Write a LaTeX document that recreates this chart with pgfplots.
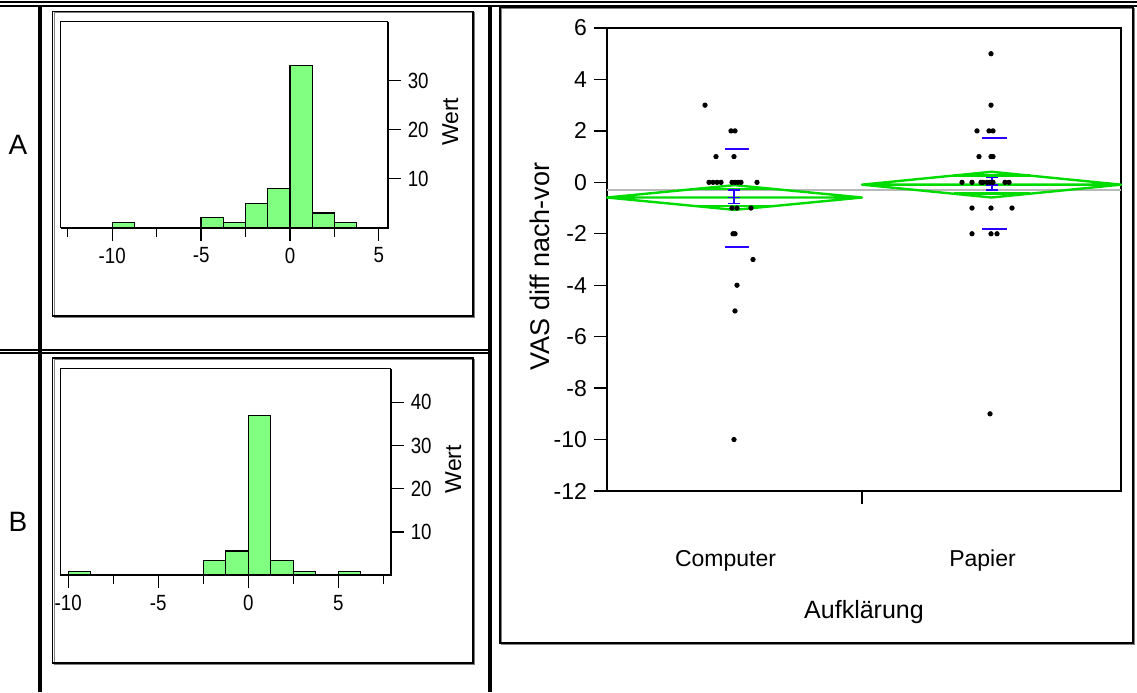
\documentclass[border=0pt]{standalone}
\usepackage{fontspec}
\setmainfont{Liberation Sans}
\newfontfamily\narrowfont[FakeStretch=0.85]{Liberation Sans}
\usepackage{pgfplots}
\pgfplotsset{compat=1.18}
\definecolor{histgreen}{RGB}{128,255,128}
\definecolor{diagreen}{RGB}{0,220,0}
\definecolor{sdblue}{RGB}{40,0,255}
\definecolor{gmgray}{RGB}{185,185,185}

\pgfplotsset{
  histo/.style={
    scale only axis,
    anchor=north west,
    axis line style={line width=0.5pt},
    tick style={line width=0.6pt, black},
    tick align=outside,
    xtick pos=bottom,
    ytick pos=right,
    yticklabel pos=right,
    major tick length=6.5pt,
    minor tick length=4.5pt,
    ymin=0,
    /pgf/number format/assume math mode=true,
    ticklabel style={font=\narrowfont\fontsize{11}{13}\selectfont},
    ylabel=Wert,
    ylabel near ticks,
    ylabel style={font=\fontsize{11.5}{13}\selectfont, xshift=1.5pt},
    clip=false,
  },
}

\begin{document}
\begin{tikzpicture}
\path[use as bounding box] (0pt,0pt) rectangle (568.5pt,346pt);
% ---------- Histogram A ----------
\begin{axis}[histo,
  at={(30.35pt,335.15pt)}, width=163.5pt, height=103pt,
  xmin=-12.9, xmax=5.5, ymax=42,
  xtick={-10,-5,0,5}, minor xtick={-12.5,-7.5,-2.5,2.5},
  ytick={10,20,30}]
\addplot[ybar interval, fill=histgreen, draw=black, line width=0.6pt]
  coordinates {(-10,1) (-8.75,1)};
\addplot[ybar interval, fill=histgreen, draw=black, line width=0.6pt]
  coordinates {(-5,2) (-3.75,1) (-2.5,5) (-1.25,8) (0,33) (1.25,3) (2.5,1) (3.75,0)};
\draw[line width=1pt] (rel axis cs:0,0) -- (rel axis cs:1,0) -- (rel axis cs:1,1);
\end{axis}

% ---------- Histogram B ----------
\begin{axis}[histo,
  at={(30.35pt,161.5pt)}, width=165pt, height=103.15pt,
  xmin=-10.42, xmax=7.91, ymax=47.7,
  xtick={-10,-5,0,5}, minor xtick={-7.5,-2.5,2.5,7.5},
  ytick={10,20,30,40}]
\addplot[ybar interval, fill=histgreen, draw=black, line width=0.6pt]
  coordinates {(-10,0.8) (-8.75,0.8)};
\addplot[ybar interval, fill=histgreen, draw=black, line width=0.6pt]
  coordinates {(-2.5,3.5) (-1.25,5.6) (0,37) (1.25,3.5) (2.5,0.8) (3.75,0)};
\addplot[ybar interval, fill=histgreen, draw=black, line width=0.6pt]
  coordinates {(5,0.8) (6.25,0.8)};
\draw[line width=1pt] (rel axis cs:0,0) -- (rel axis cs:1,0) -- (rel axis cs:1,1);
\end{axis}

% ---------- Oneway plot ----------
\begin{axis}[
  scale only axis, anchor=north west,
  at={(303.5pt,332pt)}, width=257pt, height=231.5pt,
  xmin=0, xmax=514, ymin=-12, ymax=6,
  axis line style={line width=0.8pt},
  tick style={line width=0.7pt, black},
  tick align=outside,
  major tick length=6.5pt,
  ytick={-12,-10,...,6},
  ytick pos=left, xtick pos=bottom,
  xtick={255}, xticklabels={},
  extra x ticks={127.5,384.5},
  extra x tick labels={Computer,Papier},
  extra x tick style={tick style={draw=none}, xticklabel style={yshift=-19.5pt, xshift=-4.5pt}},
  /pgf/number format/assume math mode=true,
  yticklabel style={font=\fontsize{11.5}{13}\selectfont},
  xticklabel style={font=\fontsize{11.5}{13}\selectfont},
  xlabel={Aufklärung},
  xlabel style={font=\fontsize{12.5}{15}\selectfont, at={(axis description cs:0.5,0)}, anchor=center, yshift=-60.5pt},
  ylabel={VAS diff nach-vor},
  ylabel style={font=\fontsize{13.5}{16}\selectfont, at={(axis description cs:0,0.5)}, anchor=center, yshift=33.5pt, xshift=-3.5pt},
  clip=false,
]
% grand mean
\addplot[gmgray, line width=1pt] coordinates {(0,-0.30) (514,-0.30)};
% means diamonds
\addplot[diagreen, line width=1.2pt, line join=round]
  coordinates {(0,-0.59) (127.5,-0.11) (255,-0.59) (127.5,-1.07) (0,-0.59) (255,-0.59)};
\addplot[diagreen, line width=1.2pt] coordinates {(90.5,-0.25) (164.5,-0.25)};
\addplot[diagreen, line width=1.2pt] coordinates {(90.5,-0.93) (164.5,-0.93)};
\addplot[diagreen, line width=1.2pt, line join=round]
  coordinates {(255,-0.09) (384.5,0.41) (514,-0.09) (384.5,-0.59) (255,-0.09) (514,-0.09)};
\addplot[diagreen, line width=1.2pt] coordinates {(346.5,0.26) (422.5,0.26)};
\addplot[diagreen, line width=1.2pt] coordinates {(346.5,-0.44) (422.5,-0.44)};
% points Computer
\addplot[only marks, mark=*, mark size=1.1pt, black] coordinates {
  (98,3) (124,2) (128,2) (109,1) (127,1)
  (102,0) (106,0) (110,0) (114,0) (125,0) (128,0) (131,0) (134,0) (150,0)
  (125,-1) (130,-1) (144,-1) (126,-2) (128,-2) (146,-3) (130,-4) (128,-5) (127,-10)};
% points Papier
\addplot[only marks, mark=*, mark size=1.1pt, black] coordinates {
  (384,5) (384,3) (370,2) (382,2) (386,2) (372,1) (384,1) (386,1)
  (355,0) (365,0) (374,0) (376,0) (380,0) (383,0) (386,0) (398,0) (402,0)
  (365,-1) (384,-1) (405,-1) (365,-2) (384,-2) (390,-2) (383,-9)};
% SD lines
\addplot[sdblue, line width=0.9pt] coordinates {(118,1.29) (142,1.29)};
\addplot[sdblue, line width=0.9pt] coordinates {(118,-2.51) (142,-2.51)};
\addplot[sdblue, line width=0.9pt] coordinates {(375,1.71) (400,1.71)};
\addplot[sdblue, line width=0.9pt] coordinates {(375,-1.81) (400,-1.81)};
% SE bars
\addplot[sdblue, line width=0.9pt] coordinates {(127,-0.31) (127,-0.82)};
\addplot[sdblue, line width=0.9pt] coordinates {(121,-0.31) (133,-0.31)};
\addplot[sdblue, line width=0.9pt] coordinates {(121,-0.82) (133,-0.82)};
\addplot[sdblue, line width=0.9pt] coordinates {(121,-0.59) (133,-0.59)};
\addplot[sdblue, line width=0.9pt] coordinates {(385,0.19) (385,-0.30)};
\addplot[sdblue, line width=0.9pt] coordinates {(379,0.19) (391,0.19)};
\addplot[sdblue, line width=0.9pt] coordinates {(379,-0.30) (391,-0.30)};
\addplot[sdblue, line width=0.9pt] coordinates {(379,-0.09) (391,-0.09)};
\end{axis}

% ---------- table lines and frames (pixel units) ----------
\begin{scope}[shift={(0pt,346pt)}, x=0.5pt, y=-0.5pt]
\draw[line width=1pt] (0,2.5) -- (1137,2.5);
\draw[line width=0.9pt] (0,6) -- (1137,6);
\draw[line width=2pt] (39.7,6) -- (39.7,692);
\draw[line width=2.2pt] (490,6) -- (490,692);
\draw[line width=0.75pt] (0,350) -- (488,350);
\draw[line width=0.75pt] (0,353.2) -- (488,353.2);
\draw[gray, line width=0.5pt] (501.5,8.5) rectangle (1134.5,644.5);
\draw[line width=0.6pt] (500,7.5) rectangle (1133,643);
\draw[gray, line width=0.5pt] (54,13) rectangle (474.5,317.5);
\draw[line width=0.6pt] (52.5,11.5) rectangle (473,316);
\draw[gray, line width=0.5pt] (54,359.5) rectangle (474.5,664.5);
\draw[line width=0.6pt] (52.5,358) rectangle (473,663);
\node[font=\fontsize{14}{16}\selectfont] at (18,145) {A};
\node[font=\fontsize{14}{16}\selectfont] at (18,522) {B};
\end{scope}
\end{tikzpicture}
\end{document}
